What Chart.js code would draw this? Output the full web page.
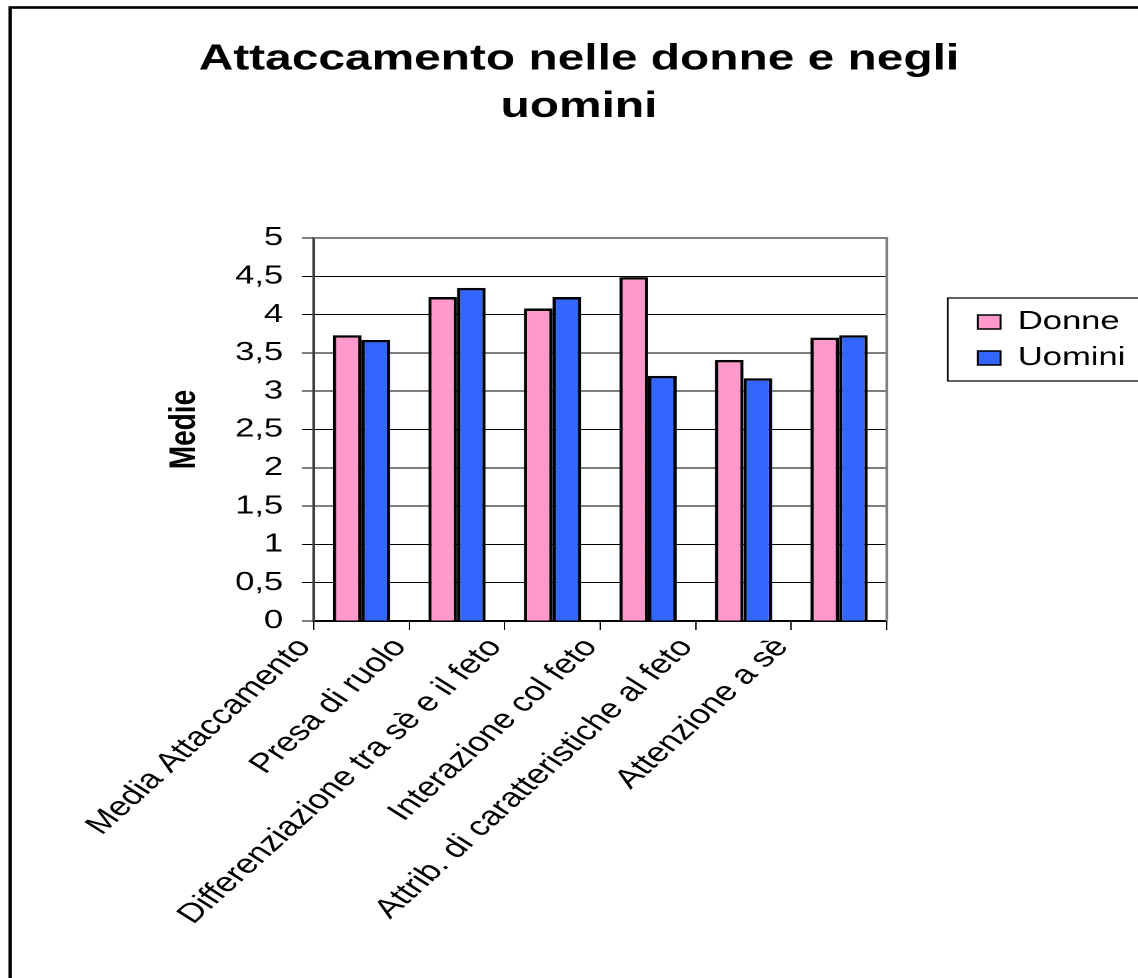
<!DOCTYPE html>
<html>
<head>
<meta charset="utf-8">
<script src="https://cdn.jsdelivr.net/npm/chart.js@4.4.1/dist/chart.umd.min.js"></script>
<style>
  html, body { margin: 0; padding: 0; background: #fff; overflow: hidden; }
  /* il grafico originale è allargato in orizzontale */
  #wrap { width: 856px; height: 978px; transform: scaleX(1.3294); transform-origin: 0 0; }
</style>
</head>
<body>
<div id="wrap"><canvas id="attaccamento" width="856" height="978"></canvas></div>
<script>
// Dati
const categorie = [
  'Media Attaccamento',
  'Presa di ruolo',
  'Differenziazione tra sè e il feto',
  'Interazione col feto',
  'Attrib. di caratteristiche al feto',
  'Attenzione a sè'
];
const donne = [3.73, 4.23, 4.08, 4.49, 3.41, 3.70];
const uomini = [3.67, 4.35, 4.23, 3.20, 3.17, 3.73];
const yMin = 0;
const yMax = 5;
const yStep = 0.5;

const FONT = "'Liberation Sans', Arial, sans-serif";

// Cornice esterna, bordo dell'area del grafico e riquadro della legenda
const cornice = {
  id: 'cornice',
  afterLayout(chart) {
    const lg = chart.legend;
    if (!lg) return;
    const w = lg.width, h = lg.height;
    lg.left = 725.6; lg.right = lg.left + w;
    lg.top = 299; lg.bottom = lg.top + h;
  },
  beforeDraw(chart) {
    const ctx = chart.ctx;
    ctx.save();
    ctx.fillStyle = '#fff';
    ctx.fillRect(0, 0, chart.width, chart.height);
    ctx.strokeStyle = '#000';
    ctx.lineWidth = 2.6;
    ctx.strokeRect(7.6, 7.5, 900, 1000);
    // riquadro legenda
    ctx.lineWidth = 1.2;
    ctx.strokeRect(713, 298, 200, 83);
    ctx.restore();
  },
  beforeDatasetsDraw(chart) {
    const {ctx, chartArea: a} = chart;
    ctx.save();
    ctx.strokeStyle = '#808080';
    ctx.lineWidth = 2;
    ctx.beginPath();
    ctx.moveTo(a.left, a.top);
    ctx.lineTo(a.right, a.top);
    ctx.lineTo(a.right, a.bottom);
    ctx.stroke();
    ctx.restore();
  }
};

new Chart(document.getElementById('attaccamento'), {
  type: 'bar',
  data: {
    labels: categorie,
    datasets: [{
      label: 'Donne',
      data: donne,
      backgroundColor: '#FF99CC',
      borderColor: '#000',
      borderWidth: 2.5
    }, {
      label: 'Uomini',
      data: uomini,
      backgroundColor: '#3366FF',
      borderColor: '#000',
      borderWidth: 2.5
    }]
  },
  options: {
    responsive: false,
    animation: false,
    devicePixelRatio: 2,
    categoryPercentage: 0.6,
    barPercentage: 1.0,
    layout: { padding: { left: 73, right: 58, top: 0, bottom: 0 } },
    plugins: {
      title: {
        display: true,
        text: ['Attaccamento nelle donne e negli', 'uomini'],
        color: '#000',
        font: { family: FONT, size: 36, weight: 'bold', lineHeight: 1.32 },
        padding: { top: 36, bottom: 107 }
      },
      legend: {
        position: 'right',
        align: 'start',
        labels: {
          color: '#000',
          font: { family: FONT, size: 26 },
          boxWidth: 17,
          boxHeight: 14,
          padding: 10,
          generateLabels(chart) {
            return chart.data.datasets.map((ds, i) => ({
              text: ds.label,
              fillStyle: ds.backgroundColor,
              strokeStyle: '#000',
              lineWidth: 1.5,
              datasetIndex: i
            }));
          }
        }
      },
      tooltip: { enabled: false }
    },
    scales: {
      x: {
        afterFit(scale) { scale.height = 357; },
        border: { color: '#000', width: 2 },
        grid: {
          offset: true,
          drawOnChartArea: false,
          drawTicks: true,
          tickLength: 9,
          color: '#000',
          lineWidth: 1
        },
        ticks: {
          autoSkip: false,
          maxRotation: 50,
          minRotation: 50,
          padding: 2,
          labelOffset: -43,
          color: '#000',
          font: { family: FONT, size: 27 }
        }
      },
      y: {
        min: yMin,
        max: yMax,
        afterFit(scale) { scale.width = 163; },
        border: { color: '#404040', width: 2 },
        grid: {
          drawTicks: true,
          tickLength: 9,
          color: (c) => (c.tick && c.tick.value === yMax ? '#808080' : '#000'),
          lineWidth: (c) => (c.tick && c.tick.value === yMax ? 2 : 1)
        },
        ticks: {
          stepSize: yStep,
          padding: 14,
          color: '#000',
          font: { family: FONT, size: 26 },
          callback: (v) => String(v).replace('.', ',')
        },
        title: {
          display: true,
          text: 'Medie',
          color: '#000',
          font: { family: FONT, size: 28, weight: 'bold', lineHeight: 1.2 },
          padding: { top: 49, bottom: 0 }
        }
      }
    }
  },
  plugins: [cornice]
});
</script>
</body>
</html>
